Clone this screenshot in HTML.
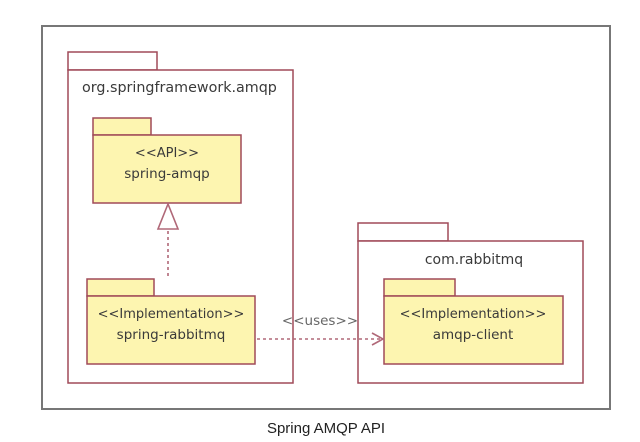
<!DOCTYPE html>
<html><head><meta charset="utf-8"><style>
html,body{margin:0;padding:0;background:#fff;}
svg{display:block;}
text{font-family:"DejaVu Sans","Liberation Sans",sans-serif;fill:#3a3a3a;}
</style></head><body>
<svg width="640" height="442" viewBox="0 0 640 442" xmlns="http://www.w3.org/2000/svg">
<rect x="0" y="0" width="640" height="442" fill="#fff"/>
<rect x="42" y="26" width="568" height="383" fill="#fff" stroke="#777" stroke-width="2"/>
<g stroke="#a04a58" stroke-width="1.5">
<rect x="68" y="52" width="89" height="18" fill="#fff"/>
<rect x="68" y="70" width="225" height="313" fill="#fff"/>
<rect x="93" y="118" width="58" height="17" fill="#fdf5b0"/>
<rect x="93" y="135" width="148" height="68" fill="#fdf5b0"/>
<rect x="87" y="279" width="67" height="17" fill="#fdf5b0"/>
<rect x="87" y="296" width="168" height="68" fill="#fdf5b0"/>
<rect x="358" y="223" width="90" height="18" fill="#fff"/>
<rect x="358" y="241" width="225" height="142" fill="#fff"/>
<rect x="384" y="279" width="71" height="17" fill="#fdf5b0"/>
<rect x="384" y="296" width="179" height="68" fill="#fdf5b0"/>
</g>
<g stroke="#b06878" stroke-width="1.6" fill="none">
<polygon points="168,204 158,229 178,229" fill="#fff"/>
<line x1="168" y1="231" x2="168" y2="279" stroke-dasharray="3,3"/>
<line x1="257" y1="339" x2="382" y2="339" stroke-dasharray="3,3"/>
<polyline points="372,333 383,339 372,345"/>
</g>
<text x="82" y="92" font-size="14.3">org.springframework.amqp</text>
<text x="167" y="157" font-size="13" text-anchor="middle">&lt;&lt;API&gt;&gt;</text>
<text x="167" y="178" font-size="13.5" text-anchor="middle">spring-amqp</text>
<text x="171" y="318" font-size="13" text-anchor="middle">&lt;&lt;Implementation&gt;&gt;</text>
<text x="171" y="339" font-size="13.5" text-anchor="middle">spring-rabbitmq</text>
<text x="474" y="264" font-size="14" text-anchor="middle">com.rabbitmq</text>
<text x="473" y="318" font-size="13" text-anchor="middle">&lt;&lt;Implementation&gt;&gt;</text>
<text x="473" y="339" font-size="13.5" text-anchor="middle">amqp-client</text>
<text x="320" y="325" font-size="13.5" text-anchor="middle" style="fill:#666">&lt;&lt;uses&gt;&gt;</text>
<text x="326" y="433" font-size="15" text-anchor="middle" style="fill:#222;font-family:'Liberation Sans',sans-serif">Spring AMQP API</text>
</svg>
</body></html>
